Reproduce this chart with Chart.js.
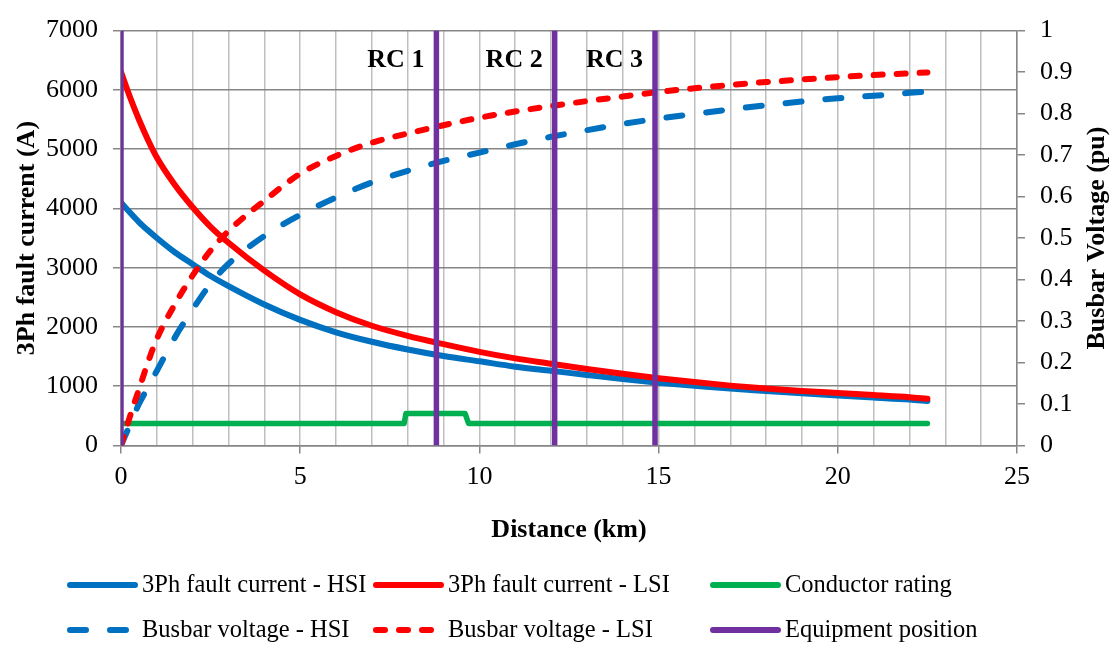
<!DOCTYPE html>
<html>
<head>
<meta charset="utf-8">
<script src="https://cdn.jsdelivr.net/npm/chart.js@4.4.1/dist/chart.umd.min.js"></script>
<style>
  body { margin: 0; background: #fff; }
  canvas { display: block; }
</style>
</head>
<body>
<canvas id="chart" width="1117" height="646"></canvas>
<script>
// distance along the feeder (km) and the values read at each point
const distKm   = [0, 0.25, 0.5, 0.75, 1, 1.5, 2, 2.5, 3, 4, 5, 6, 7, 8, 9, 10, 11, 12, 13, 14, 15, 16, 17, 18, 19, 20, 21, 22, 22.5];
const faultHSI = [4100, 3930, 3770, 3630, 3500, 3260, 3060, 2860, 2690, 2380, 2120, 1910, 1750, 1620, 1510, 1420, 1330, 1260, 1190, 1120, 1060, 1010, 960, 920, 880, 845, 810, 775, 750];
const faultLSI = [6300, 5880, 5500, 5160, 4860, 4400, 4020, 3690, 3420, 2950, 2550, 2250, 2020, 1850, 1710, 1580, 1470, 1380, 1290, 1210, 1135, 1070, 1010, 960, 920, 885, 850, 815, 790];
const busHSI   = [0, 0.05, 0.10, 0.14, 0.18, 0.26, 0.328, 0.39, 0.438, 0.505, 0.556, 0.598, 0.634, 0.662, 0.686, 0.706, 0.726, 0.744, 0.760, 0.775, 0.788, 0.799, 0.810, 0.820, 0.829, 0.837, 0.843, 0.850, 0.853];
const busLSI   = [0, 0.07, 0.135, 0.20, 0.257, 0.34, 0.41, 0.47, 0.517, 0.59, 0.655, 0.698, 0.73, 0.752, 0.772, 0.79, 0.805, 0.818, 0.83, 0.841, 0.852, 0.861, 0.869, 0.876, 0.882, 0.888, 0.893, 0.897, 0.899];

// conductor rating steps up over the heavier section
const ratingKm = [0.1, 7.9, 7.95, 9.6, 9.7, 22.5];
const ratingA  = [370, 370, 540, 540, 370, 370];

// recloser / equipment positions
const equipKm     = [0, 8.8, 12.1, 14.9];
const equipLabels = ['', 'RC 1', 'RC 2', 'RC 3'];

const FONT = '"Liberation Serif", "Times New Roman", serif';
Chart.defaults.font.family = FONT;
Chart.defaults.color = '#000';

const pts = (xs, ys) => xs.map((x, i) => ({ x: x, y: ys[i] }));

const equipPts = [];
equipKm.forEach(x => {
  equipPts.push({ x: x, y: 0 }, { x: x, y: 7000 }, { x: x, y: null });
});

const common = {
  borderWidth: 6,
  pointRadius: 0,
  borderCapStyle: 'round',
  borderJoinStyle: 'round',
  fill: false
};

const datasets = [
  { ...common, label: '3Ph fault current - HSI', data: pts(distKm, faultHSI), borderColor: '#0070C0', yAxisID: 'y', cubicInterpolationMode: 'monotone', order: 5 },
  { ...common, label: '3Ph fault current - LSI', data: pts(distKm, faultLSI), borderColor: '#FF0000', yAxisID: 'y', cubicInterpolationMode: 'monotone', order: 4 },
  { ...common, label: 'Conductor rating', data: pts(ratingKm, ratingA), borderColor: '#00B050', borderWidth: 5.5, yAxisID: 'y', tension: 0, order: 3 },
  { ...common, label: 'Busbar voltage - HSI', data: pts(distKm, busHSI), borderColor: '#0070C0', borderDash: [16, 24], yAxisID: 'y1', cubicInterpolationMode: 'monotone', order: 2 },
  { ...common, label: 'Busbar voltage - LSI', data: pts(distKm, busLSI), borderColor: '#FF0000', borderDash: [9, 14], yAxisID: 'y1', cubicInterpolationMode: 'monotone', order: 1 },
  { ...common, label: 'Equipment position', data: equipPts, borderColor: '#7030A0', borderWidth: 5.5, borderCapStyle: 'butt', yAxisID: 'y', tension: 0, spanGaps: false, clip: 0, order: 0 }
];

// legend laid out as a 3-column grid under the plot
const gridLegend = {
  id: 'gridLegend',
  afterDraw(chart) {
    const ctx = chart.ctx;
    const colX = [70, 376, 713];
    const rowY = [585, 630];
    ctx.save();
    datasets.forEach((ds, i) => {
      const x = colX[i % 3];
      const y = rowY[Math.floor(i / 3)];
      ctx.beginPath();
      ctx.strokeStyle = ds.borderColor;
      ctx.lineWidth = 6;
      ctx.lineCap = 'round';
      ctx.setLineDash(ds.borderDash || []);
      ctx.moveTo(x, y);
      ctx.lineTo(x + 65, y);
      ctx.stroke();
      ctx.setLineDash([]);
      ctx.fillStyle = '#000';
      ctx.font = '24.5px ' + FONT;
      ctx.textBaseline = 'middle';
      ctx.textAlign = 'left';
      ctx.fillText(ds.label, x + 72, y + 1);
    });
    ctx.restore();
  }
};

// recloser labels beside each position line, plus the right-hand axis title
const extraText = {
  id: 'extraText',
  afterDraw(chart) {
    const ctx = chart.ctx;
    const xs = chart.scales.x;
    const ys = chart.scales.y;
    const area = chart.chartArea;
    ctx.save();
    ctx.fillStyle = '#000';
    ctx.font = 'bold 26px ' + FONT;
    ctx.textAlign = 'right';
    ctx.textBaseline = 'middle';
    equipKm.forEach((x, i) => {
      if (!equipLabels[i]) return;
      ctx.fillText(equipLabels[i], xs.getPixelForValue(x) - 12, ys.getPixelForValue(6500));
    });
    ctx.translate(1097, (area.top + area.bottom) / 2);
    ctx.rotate(-Math.PI / 2);
    ctx.textAlign = 'center';
    ctx.fillText('Busbar Voltage (pu)', 0, 0);
    ctx.restore();
  }
};

new Chart(document.getElementById('chart'), {
  type: 'line',
  data: { datasets: datasets },
  options: {
    responsive: false,
    animation: false,
    events: [],
    layout: { padding: { top: 22, bottom: 100.5, left: 0, right: 0 } },
    plugins: { legend: { display: false }, tooltip: { enabled: false } },
    scales: {
      x: {
        type: 'linear',
        min: 0, max: 25,
        afterFit: s => { s.height = 100; },
        ticks: {
          stepSize: 1,
          autoSkip: false,
          maxRotation: 0,
          padding: 8,
          font: { size: 26 },
          callback: v => (v % 5 === 0 ? String(v) : '')
        },
        grid: {
          color: '#BFBFBF',
          lineWidth: 1.5,
          tickLength: 8,
          tickColor: c => (c.tick && c.tick.value % 5 === 0 ? '#868686' : 'rgba(0,0,0,0)')
        },
        border: { color: '#868686', width: 1.5 },
        title: {
          display: true,
          text: 'Distance (km)',
          font: { size: 26, weight: 'bold' },
          padding: { top: 15, bottom: 0 }
        }
      },
      y: {
        position: 'left',
        min: 0, max: 7000,
        afterFit: s => { s.width = 121; },
        ticks: { stepSize: 1000, padding: 15, font: { size: 26 }, callback: v => String(v) },
        grid: { color: '#868686', lineWidth: 1.5, tickLength: 8, tickColor: '#868686' },
        border: { color: '#868686', width: 1.5 },
        title: {
          display: true,
          text: '3Ph fault current (A)',
          font: { size: 26, weight: 'bold' },
          padding: { top: 12, bottom: 0 }
        }
      },
      y1: {
        position: 'right',
        min: 0, max: 1,
        afterFit: s => { s.width = 100; },
        ticks: {
          stepSize: 0.1,
          padding: 15,
          font: { size: 26 },
          callback: v => String(Math.round(v * 10) / 10)
        },
        grid: { drawOnChartArea: false, tickLength: 8, tickColor: '#868686', lineWidth: 1.5 },
        border: { color: '#868686', width: 1.5 }
      }
    }
  },
  plugins: [gridLegend, extraText]
});
</script>
</body>
</html>
